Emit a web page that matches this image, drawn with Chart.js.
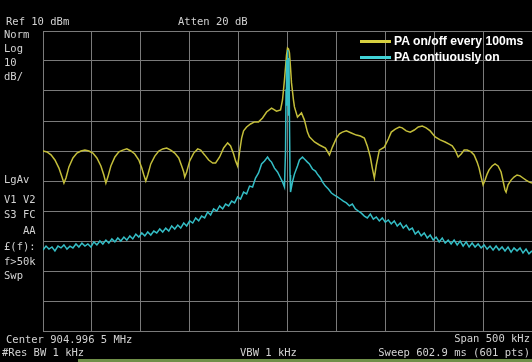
<!DOCTYPE html>
<html>
<head>
<meta charset="utf-8">
<script src="https://cdn.jsdelivr.net/npm/chart.js@4/dist/chart.umd.min.js"></script>
<style>
  html, body { margin: 0; padding: 0; background: #000; }
  #wrap { position: relative; width: 532px; height: 362px; background: #000; overflow: hidden; }
  #c { position: absolute; left: 0; top: 0; }
  .t { position: absolute; font-family: "DejaVu Sans Mono", monospace; font-size: 10.5px; line-height: 11px; color: #d2d2d2; white-space: pre; }
  .lg { position: absolute; font-family: "Liberation Sans", Arial, sans-serif; font-weight: bold; font-size: 12.2px; line-height: 13px; color: #ffffff; white-space: pre; }
  .sw { position: absolute; height: 3px; width: 31px; }
</style>
</head>
<body>
<div id="wrap">
  <canvas id="c" width="532" height="362"></canvas>
</div>
<script>
// ---- data (frequency offset from centre in kHz, level in dBm) ----
const seriesNames = ["PA on/off every 100ms", "PA contiuously on"];

const freqOnOff = [-250.0,-245.9,-241.8,-237.8,-233.7,-230.6,-228.6,-226.5,-223.5,-219.4,-215.3,-211.2,-207.1,-203.1,-199.0,-194.9,-190.8,-187.8,-185.7,-183.7,-180.6,-176.5,-172.4,-168.4,-164.3,-160.2,-156.1,-152.0,-149.0,-146.9,-144.9,-142.9,-139.8,-135.7,-131.6,-127.6,-123.5,-119.4,-115.3,-111.2,-108.2,-106.1,-105.1,-103.1,-100.0,-95.9,-91.8,-88.8,-84.7,-80.6,-76.5,-73.5,-69.4,-65.3,-61.2,-58.2,-55.1,-53.1,-51.0,-49.0,-46.9,-44.9,-41.8,-37.8,-33.7,-29.6,-25.5,-21.4,-16.3,-11.2,-7.1,-5.1,-3.1,-2.0,-1.0,0.0,1.0,2.0,3.1,4.1,6.1,7.1,10.2,14.3,17.3,20.4,22.4,27.6,32.7,38.8,42.9,45.9,50.0,53.1,56.1,60.2,65.3,70.4,74.5,78.6,81.6,84.7,86.7,88.8,90.8,93.9,99.0,103.1,106.1,110.2,114.3,117.3,121.4,125.5,129.6,133.7,137.8,141.8,145.9,151.0,156.1,161.2,165.3,168.4,171.4,174.5,177.6,180.6,183.7,187.8,190.8,193.9,195.9,198.0,200.0,202.0,204.1,206.1,209.2,212.2,215.3,218.4,220.4,222.4,223.5,225.5,228.6,231.6,234.7,237.8,240.8,243.9,246.9,250.0];
const levelOnOff = [-30.0,-30.3,-31.3,-33.0,-35.7,-38.7,-40.7,-39.0,-35.3,-32.3,-30.7,-30.0,-29.7,-30.0,-30.7,-32.3,-35.0,-38.0,-40.7,-38.7,-35.0,-32.0,-30.3,-29.7,-29.3,-30.0,-31.0,-33.0,-35.7,-38.0,-40.0,-38.0,-34.3,-31.7,-30.0,-29.3,-29.0,-29.7,-30.7,-32.3,-35.0,-37.0,-38.7,-37.0,-33.3,-30.7,-29.3,-29.7,-31.3,-33.0,-34.0,-34.0,-32.0,-29.0,-27.3,-28.3,-31.0,-33.3,-35.0,-30.3,-25.7,-23.3,-22.0,-21.0,-20.3,-20.3,-19.0,-17.0,-15.7,-16.7,-16.3,-13.0,-6.3,-2.0,2.0,4.3,4.0,2.7,-2.3,-7.3,-13.0,-15.3,-18.7,-17.3,-19.7,-23.7,-25.3,-27.0,-28.0,-29.0,-31.3,-28.7,-25.7,-24.3,-23.7,-23.3,-24.0,-24.7,-25.0,-25.7,-28.3,-32.0,-35.7,-39.0,-34.7,-29.7,-28.7,-26.0,-23.7,-22.7,-22.0,-22.3,-23.3,-23.7,-23.0,-22.0,-21.7,-22.3,-23.3,-25.3,-26.3,-27.0,-27.7,-28.3,-29.7,-32.0,-31.0,-29.7,-29.7,-30.3,-31.3,-33.7,-35.7,-38.7,-41.3,-39.7,-37.7,-36.3,-35.0,-34.3,-35.0,-37.0,-40.0,-43.0,-43.7,-41.3,-39.7,-38.7,-38.0,-38.3,-39.0,-39.7,-40.3,-40.7];

const freqOn = [-250.0,-246.9,-243.9,-240.8,-237.8,-234.7,-231.6,-228.6,-225.5,-222.4,-219.4,-216.3,-213.3,-210.2,-207.1,-204.1,-201.0,-198.0,-194.9,-191.8,-188.8,-185.7,-182.7,-179.6,-176.5,-173.5,-170.4,-167.3,-164.3,-161.2,-158.2,-155.1,-152.0,-149.0,-145.9,-142.9,-139.8,-136.7,-133.7,-130.6,-127.6,-124.5,-121.4,-118.4,-115.3,-112.2,-109.2,-106.1,-103.1,-100.0,-96.9,-93.9,-90.8,-87.8,-84.7,-81.6,-78.6,-75.5,-72.4,-69.4,-66.3,-63.3,-60.2,-57.1,-54.1,-51.0,-48.0,-44.9,-41.8,-38.8,-35.7,-32.7,-29.6,-26.5,-23.5,-20.4,-18.4,-16.3,-13.3,-10.2,-7.1,-5.1,-3.1,-2.0,-1.5,-1.0,-0.5,0.0,0.5,1.0,1.5,2.0,2.6,3.1,5.1,7.1,10.2,12.2,15.3,17.3,20.4,22.4,25.5,28.6,30.6,33.7,35.7,38.8,41.8,44.9,48.0,51.0,54.1,57.1,60.2,63.3,66.3,69.4,72.4,75.5,78.6,81.6,84.7,87.8,90.8,93.9,96.9,100.0,103.1,106.1,109.2,112.2,115.3,118.4,121.4,124.5,127.6,130.6,133.7,136.7,139.8,142.9,145.9,149.0,152.0,155.1,158.2,161.2,164.3,167.3,170.4,173.5,176.5,179.6,182.7,185.7,188.8,191.8,194.9,198.0,201.0,204.1,207.1,210.2,213.3,216.3,219.4,222.4,225.5,228.6,231.6,234.7,237.8,240.8,243.9,246.9,250.0];
const levelOn = [-63.0,-61.7,-62.7,-62.0,-63.3,-61.7,-62.3,-61.3,-62.7,-61.7,-62.3,-61.0,-62.0,-60.7,-61.7,-61.0,-62.0,-60.3,-61.3,-60.0,-61.0,-59.7,-60.7,-59.3,-60.3,-59.0,-60.0,-58.7,-59.7,-58.3,-59.3,-57.7,-58.7,-57.3,-58.3,-57.0,-58.0,-56.7,-57.3,-56.0,-57.0,-55.7,-56.7,-55.0,-56.0,-54.7,-55.7,-54.0,-55.0,-53.3,-54.0,-52.3,-53.3,-51.7,-52.3,-50.3,-51.3,-49.3,-50.0,-48.3,-49.3,-47.7,-48.3,-46.7,-47.3,-45.3,-46.0,-43.7,-44.3,-41.7,-42.0,-39.0,-37.3,-34.3,-33.3,-32.0,-33.0,-33.7,-35.7,-37.0,-39.0,-40.3,-42.0,-29.7,-9.7,0.3,-14.7,3.7,-3.0,-18.0,1.0,-19.7,-38.0,-43.7,-40.3,-37.7,-35.0,-33.0,-32.0,-32.7,-33.7,-34.3,-36.0,-36.7,-37.7,-39.0,-40.3,-41.7,-42.7,-44.0,-44.7,-45.3,-46.0,-46.7,-47.3,-48.3,-47.7,-49.3,-50.0,-50.7,-51.7,-52.3,-51.0,-52.7,-52.0,-53.3,-52.3,-53.7,-53.0,-54.3,-53.3,-55.0,-54.0,-55.7,-54.7,-56.3,-55.7,-57.7,-56.7,-58.3,-57.3,-59.0,-58.0,-59.7,-58.7,-60.3,-59.0,-60.7,-59.7,-61.0,-59.7,-61.3,-60.0,-61.7,-60.3,-62.0,-60.7,-62.0,-61.0,-62.3,-61.3,-62.7,-61.7,-63.0,-61.7,-63.0,-62.0,-63.3,-62.0,-63.7,-62.3,-63.3,-62.3,-64.0,-62.7,-64.3,-63.3];

// axis settings (analyzer: Ref 10 dBm, 10 dB/div, span 500 kHz)
const refLevel = 10;
const dbPerDiv = 10;
const spanKHz = 500;

// screen annotation texts
const headerTexts = ["Ref 10 dBm", "Atten 20 dB"];
const sideTexts = ["Norm", "Log", "10", "dB/", "LgAv", "V1 V2", "S3 FC", "   AA", "\u00a3(f):", "f>50k", "Swp"];
const footerTexts = ["Center 904.996 5 MHz", "Span 500 kHz", "#Res BW 1 kHz", "VBW 1 kHz", "Sweep 602.9 ms (601 pts)"];

const yellow = "#c4be3a";
const cyan = "#34bec6";

function pts(xs, ys) { return xs.map((x, i) => ({ x: x, y: ys[i] })); }

const wrap = document.getElementById("wrap");
function addText(txt, cls, css) {
  const d = document.createElement("div");
  d.className = cls;
  d.textContent = txt;
  Object.assign(d.style, css);
  wrap.appendChild(d);
  return d;
}
// header
addText(headerTexts[0], "t", { left: "6px", top: "16px" });
addText(headerTexts[1], "t", { left: "178px", top: "16px" });
// side column
const sideTops = [29, 43, 57, 71, 174, 194, 209, 225, 241, 256, 270];
sideTexts.forEach((s, i) => addText(s, "t", { left: "4px", top: sideTops[i] + "px" }));
// footer
addText(footerTexts[0], "t", { left: "6px", top: "334px" });
addText(footerTexts[1], "t", { right: "2px", top: "333px" });
addText(footerTexts[2], "t", { left: "2px", top: "347px" });
addText(footerTexts[3], "t", { left: "240px", top: "347px" });
addText(footerTexts[4], "t", { right: "2px", top: "347px" });
// bottom status bar
const bar = document.createElement("div");
Object.assign(bar.style, { position: "absolute", left: "78px", top: "359px", width: "454px", height: "3px", background: "#6f8f48" });
wrap.appendChild(bar);
// legend
const sw1 = document.createElement("div"); sw1.className = "sw";
Object.assign(sw1.style, { left: "360px", top: "40px", background: "#d8d040" }); wrap.appendChild(sw1);
const sw2 = document.createElement("div"); sw2.className = "sw";
Object.assign(sw2.style, { left: "360px", top: "56px", background: "#40d4d8" }); wrap.appendChild(sw2);
addText(seriesNames[0], "lg", { left: "394px", top: "35px" });
addText(seriesNames[1], "lg", { left: "394px", top: "51px" });

const gridColor = "#7a7a7a";
new Chart(document.getElementById("c"), {
  type: "line",
  data: {
    datasets: [
      { label: seriesNames[1], data: pts(freqOn, levelOn), borderColor: cyan, borderWidth: 1.5, pointRadius: 0, tension: 0, fill: false },
      { label: seriesNames[0], data: pts(freqOnOff, levelOnOff), borderColor: yellow, borderWidth: 1.5, pointRadius: 0, tension: 0, fill: false }
    ]
  },
  options: {
    responsive: false,
    animation: false,
    events: [],
    layout: { padding: { left: 43, top: 31, right: 0, bottom: 31 } },
    plugins: { legend: { display: false }, tooltip: { enabled: false } },
    scales: {
      x: {
        type: "linear", min: -spanKHz / 2, max: spanKHz / 2,
        ticks: { display: false, stepSize: spanKHz / 10 },
        grid: { color: gridColor, lineWidth: 1, drawTicks: false },
        border: { color: gridColor, width: 1 }
      },
      y: {
        type: "linear", min: refLevel - 10 * dbPerDiv, max: refLevel,
        ticks: { display: false, stepSize: dbPerDiv },
        grid: { color: gridColor, lineWidth: 1, drawTicks: false },
        border: { color: gridColor, width: 1 }
      }
    }
  }
});
</script>
</body>
</html>
